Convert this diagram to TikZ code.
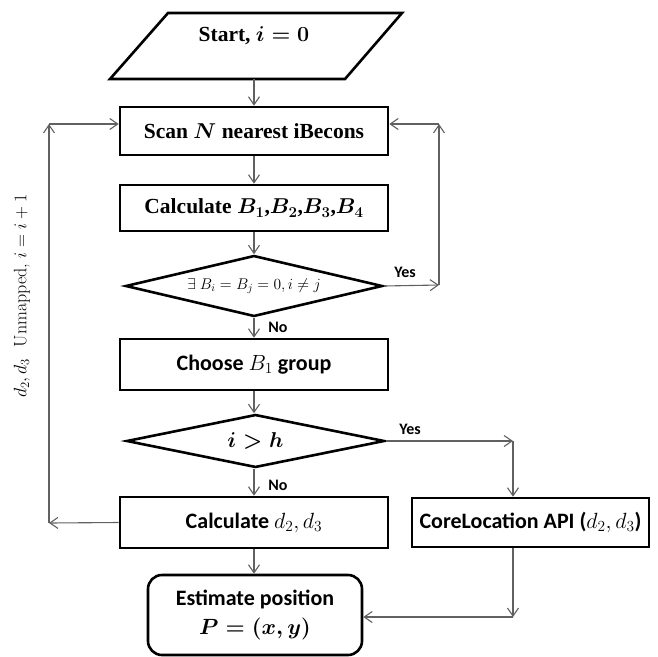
\RequirePackage{fix-cm}
\documentclass[tikz,border=0pt]{standalone}
\usepackage{amsmath,amssymb}
\usepackage{fontspec}
\setmainfont{Liberation Serif}
\newfontfamily\calib{Carlito}
\newfontfamily\lmr{Latin Modern Roman}
\usetikzlibrary{shapes.geometric,arrows.meta,calc}
\begin{document}
\begin{tikzpicture}[x=1pt,y=-1pt,
  box/.style={draw=black, line width=2.6pt, rectangle, minimum width=268pt, minimum height=48pt, inner sep=0pt},
  dia/.style={draw=black, line width=2.6pt, diamond, aspect=4.2, inner sep=0pt},
  tfont/.style={font=\fontsize{21.5}{25}\selectfont\bfseries\boldmath},
  cfont/.style={font=\fontsize{22}{27}\selectfont\calib\bfseries},
  lbl/.style={font=\fontsize{16}{19}\selectfont\calib\bfseries},
  arr/.style={draw=black!62, line width=1.1pt, -{Straight Barb[length=8pt,width=11pt]}}
]
\useasboundingbox (0,0) rectangle (657,657);
% start parallelogram
\draw[line width=2.6pt, line join=miter] (168,13) -- (402,13) -- (345,79) -- (110,79) -- cycle;
\node[tfont] (start) at (254,36) {Start, $i=0$};
\coordinate (sb) at (254,79);
% nodes
\node[box, tfont] (scan) at (254,131) {Scan $N$ nearest iBecons};
\node[box, tfont, minimum height=46pt] (calcb) at (254,208) {Calculate $B_1$,$B_2$,$B_3$,$B_4$};
\node[dia, minimum width=257pt, minimum height=61pt, font=\fontsize{15.5}{18}\selectfont] (d1) at (254,286) {$\exists\ B_i=B_j=0, i\neq j$};
\node[box, cfont, minimum height=51pt] (choose) at (254,364.5) {Choose $B_1$ group};
\node[dia, minimum width=258pt, minimum height=53pt, tfont] (d2) at (255.5,441) {$i>h$};
\node[box, cfont, minimum height=51pt] (calcd) at (254,522.5) {Calculate $d_2,d_3$};
\node[box, cfont, minimum width=237pt, minimum height=49pt] (core) at (530.5,522.5) {CoreLocation API ($d_2,d_3$)};
\node[draw=black, line width=2.6pt, rounded corners=14pt, minimum width=214pt, minimum height=80pt, inner sep=0pt,
      cfont, align=center] (est) at (255,615) {Estimate position\\[2pt] $\boldsymbol{P=(x,y)}$};
% labels
\node[lbl] (yes1) at (405,272) {Yes};
\node[lbl] (yes2) at (410,429) {Yes};
\node[lbl] (no1) at (278,327) {No};
\node[lbl] (no2) at (278,485) {No};
\node[rotate=90, font=\fontsize{18}{21}\selectfont\lmr] (loop) at (22,296) {$d_2, d_3$\ \ Unmapped, $i=i+1$};
% coordinates
\coordinate (r1) at (439,285);
\coordinate (r2) at (439,124);
\coordinate (l1) at (49,523);
\coordinate (l2) at (49,124);
\coordinate (y2) at (513,441);
\coordinate (c1) at (513,617);
% connectors
\draw[arr] (sb) -- (scan.north);
\draw[arr] (scan) -- (calcb);
\draw[arr] (calcb) -- (d1);
\draw[arr] (d1.east) -- (r1);
\draw[arr] (r1) -- (r2);
\draw[arr] (r2) -- (r2 -| scan.east);
\draw[arr] (d1) -- (choose);
\draw[arr] (choose) -- (choose.south |- d2.north);
\draw[arr] (d2.east) -- (y2);
\draw[arr] (y2) -- (y2 |- core.north);
\draw[arr] (calcd.south |- d2.south) -- (calcd);
\draw[arr] (calcd.west) -- (l1);
\draw[arr] (l1) -- (l2);
\draw[arr] (l2) -- (l2 -| scan.west);
\draw[arr] (calcd) -- (est.north -| calcd.south);
\draw[arr] (y2 |- core.south) -- (c1);
\draw[arr] (c1) -- (c1 -| est.east);
\end{tikzpicture}
\end{document}
